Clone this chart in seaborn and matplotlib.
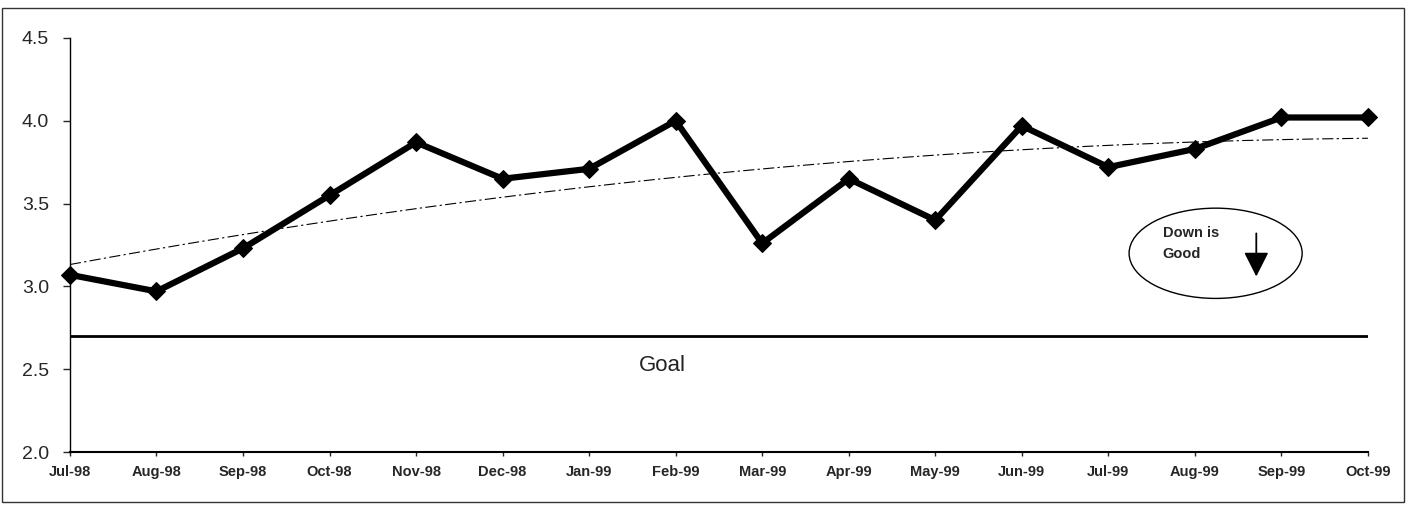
import numpy as np
import pandas as pd
import matplotlib
matplotlib.use("Agg")
import matplotlib.pyplot as plt
from matplotlib.patches import Ellipse, Rectangle
import seaborn as sns

# Monthly scores, Jul-98 .. Oct-99
months = ["Jul-98", "Aug-98", "Sep-98", "Oct-98", "Nov-98", "Dec-98", "Jan-99", "Feb-99",
          "Mar-99", "Apr-99", "May-99", "Jun-99", "Jul-99", "Aug-99", "Sep-99", "Oct-99"]
scores = [3.07, 2.97, 3.23, 3.55, 3.87, 3.65, 3.71, 4.00,
          3.26, 3.65, 3.40, 3.97, 3.72, 3.83, 4.02, 4.02]
goal = 2.7
y_ticks = [2.0, 2.5, 3.0, 3.5, 4.0, 4.5]

sns.set_style("ticks")
plt.rcParams["font.family"] = ["Liberation Sans", "DejaVu Sans"]

df = pd.DataFrame({"idx": np.arange(len(months)), "score": scores})

fig = plt.figure(figsize=(14.13, 5.08), dpi=100)
ax = fig.add_axes([0.0495, 0.1102, 0.9186, 0.815])

# second-order polynomial trend of the scores
coef = np.polyfit(df["idx"] + 1, df["score"], 2)
xs = np.linspace(0, len(months) - 1, 200)
ax.plot(xs, np.polyval(coef, xs + 1), color="black", lw=0.8,
        linestyle=(0, (10, 3, 2, 3)), zorder=2)

# goal line
ax.axhline(goal, color="black", lw=2.0, zorder=2)
ax.text(6.85, 2.52, "Goal", fontsize=16, color="#222222", ha="center", va="center")

# monthly series
sns.lineplot(data=df, x="idx", y="score", ax=ax, color="black", lw=4.5,
             marker="D", markersize=9.5, markeredgecolor="black", zorder=3)
for line in ax.lines[-1:]:
    line.set_clip_on(False)

# "Down is Good" callout
ax.add_patch(Ellipse((13.24, 3.20), 2.0, 0.545, fill=False, edgecolor="black",
                     lw=1.0, zorder=4))
ax.text(12.63, 3.32, "Down is", fontsize=10.5, fontweight="bold", ha="left", va="center")
ax.text(12.63, 3.195, "Good", fontsize=10.5, fontweight="bold", ha="left", va="center")
ax.annotate("", xy=(13.71, 3.06), xytext=(13.71, 3.32),
            arrowprops=dict(arrowstyle="-|>,head_length=0.75,head_width=0.38",
                            mutation_scale=20, color="black", lw=1.3,
                            shrinkA=0, shrinkB=0))

ax.set_xlim(0, len(months) - 1)
ax.set_ylim(2.0, 4.5)
ax.set_xticks(df["idx"])
ax.set_xticklabels(months, fontsize=10.5, fontweight="bold")
ax.set_yticks(y_ticks)
ax.set_yticklabels([f"{v:.1f}" for v in y_ticks], fontsize=14)
ax.tick_params(axis="y", direction="out", length=5, width=1, pad=10)
ax.tick_params(axis="x", direction="out", length=3, width=1, pad=6)
ax.set_xlabel("")
ax.set_ylabel("")

for side in ("top", "right"):
    ax.spines[side].set_visible(False)
ax.spines["left"].set_linewidth(1.0)
ax.spines["bottom"].set_linewidth(1.5)
ax.spines["left"].set_color("black")
ax.spines["bottom"].set_color("black")

# outer frame around the chart
fig.patches.append(Rectangle((0.0015, 0.012), 0.992, 0.972, transform=fig.transFigure,
                             fill=False, edgecolor="#333333", lw=1.0))

fig.savefig("out.png", dpi=100, facecolor="white")
